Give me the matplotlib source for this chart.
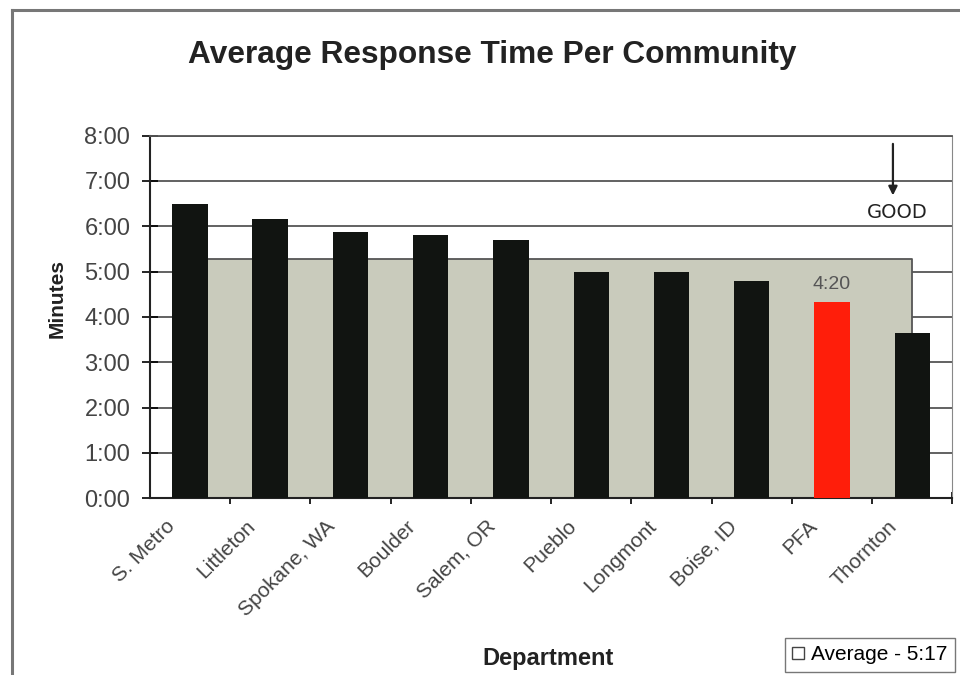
import matplotlib
matplotlib.use("Agg")
import matplotlib.pyplot as plt
import matplotlib.transforms as mtransforms
from matplotlib.patches import Patch

# response times in minutes (m + s/60)
departments = ["S. Metro", "Littleton", "Spokane, WA", "Boulder", "Salem, OR",
               "Pueblo", "Longmont", "Boise, ID", "PFA", "Thornton"]
minutes = [6 + 30/60, 6 + 10/60, 5 + 53/60, 5 + 49/60, 5 + 42/60,
           5 + 0/60, 4 + 59/60, 4 + 48/60, 4 + 20/60, 3 + 39/60]
average = 5 + 17/60
ytick_vals = [0, 1, 2, 3, 4, 5, 6, 7, 8]
ytick_labels = ["0:00", "1:00", "2:00", "3:00", "4:00", "5:00", "6:00", "7:00", "8:00"]

plt.rcParams['font.family'] = ['Liberation Sans', 'DejaVu Sans']

fig = plt.figure(figsize=(9.6, 6.75), dpi=100)
ax = fig.add_axes([0.156, 0.262, 0.836, 0.537])

# outer chart border (top + left only show inside the frame)
fig.add_artist(plt.Line2D([12/960, 12/960], [0, 1 - 10/675], color="#777777", lw=2.2))
fig.add_artist(plt.Line2D([12/960, 1], [1 - 10/675, 1 - 10/675], color="#777777", lw=2.2))

x = list(range(len(departments)))

# grid
for v in ytick_vals[1:]:
    ax.axhline(v, color="#555555", lw=1.3, zorder=1)

# average shown as an area from first to last category
ax.fill_between([x[0], x[-1]], [average, average], 0, facecolor="#c9cbbc",
                edgecolor="#555555", lw=1.3, zorder=2)

colors = ["#111411"] * len(departments)
colors[departments.index("PFA")] = "#ff1e0a"
ax.bar(x, minutes, width=0.44, color=colors, zorder=3)

pfa = departments.index("PFA")
ax.text(x[pfa], minutes[pfa] + 0.38, "4:20", ha="center", va="center",
        fontsize=14, color="#555555", zorder=4)

ax.set_xlim(-0.5, len(departments) - 0.5)
ax.set_ylim(0, 8)
ax.set_yticks(ytick_vals)
ax.set_yticklabels(ytick_labels, fontsize=17, color="#444444")
ax.tick_params(axis="y", direction="inout", length=12, width=1.2, pad=8)

ax.set_xticks(x)
ax.set_xticklabels(departments, rotation=45, ha="right", va="center",
                   rotation_mode="anchor", fontsize=15, color="#444444")
ax.set_xticks([i + 0.5 for i in x], minor=True)
ax.tick_params(axis="x", which="major", length=0, pad=8)
ax.tick_params(axis="x", which="minor", direction="inout", length=8, width=1.2)

# nudge the slanted labels down-left (after tick_params, which resets transforms)
shift = mtransforms.ScaledTranslation(-18/100, -14/100, fig.dpi_scale_trans)
for lbl in ax.get_xticklabels():
    lbl.set_transform(lbl.get_transform() + shift)

for side in ["left", "bottom"]:
    ax.spines[side].set_color("#222222")
    ax.spines[side].set_linewidth(1.5)
ax.spines["right"].set_color("#888888")
ax.spines["top"].set_color("#555555")
ax.spines["top"].set_linewidth(1.3)

ax.set_ylabel("Minutes", fontsize=15, fontweight="bold", color="#222222")
ax.yaxis.set_label_coords(-0.104, 0.55)
ax.set_xlabel("Department", fontsize=17, fontweight="bold", color="#222222")
ax.xaxis.set_label_coords(0.496, -0.41)
fig.text(0.5125, 0.918, "Average Response Time Per Community", fontsize=22.8,
         fontweight="bold", color="#222222", ha="center", va="center")

# "GOOD" note with arrow
ax.annotate("", xy=(8.76, 6.62), xytext=(8.76, 7.88),
            arrowprops=dict(arrowstyle="-|>", color="#222222", lw=1.6, mutation_scale=13),
            annotation_clip=False, zorder=5)
ax.text(8.81, 6.3, "GOOD", ha="center", va="center", fontsize=14,
        color="#222222", family="DejaVu Sans", zorder=5)

fig.legend(handles=[Patch(facecolor="white", edgecolor="#444444")],
           labels=["Average - 5:17"], loc="upper left",
           bbox_to_anchor=(785/960, 1 - 638/675), fontsize=15, frameon=True,
           fancybox=False, edgecolor="#555555", handlelength=0.55,
           handleheight=0.55, handletextpad=0.35, borderpad=0.35,
           borderaxespad=0)

fig.savefig("out.png", dpi=100)
